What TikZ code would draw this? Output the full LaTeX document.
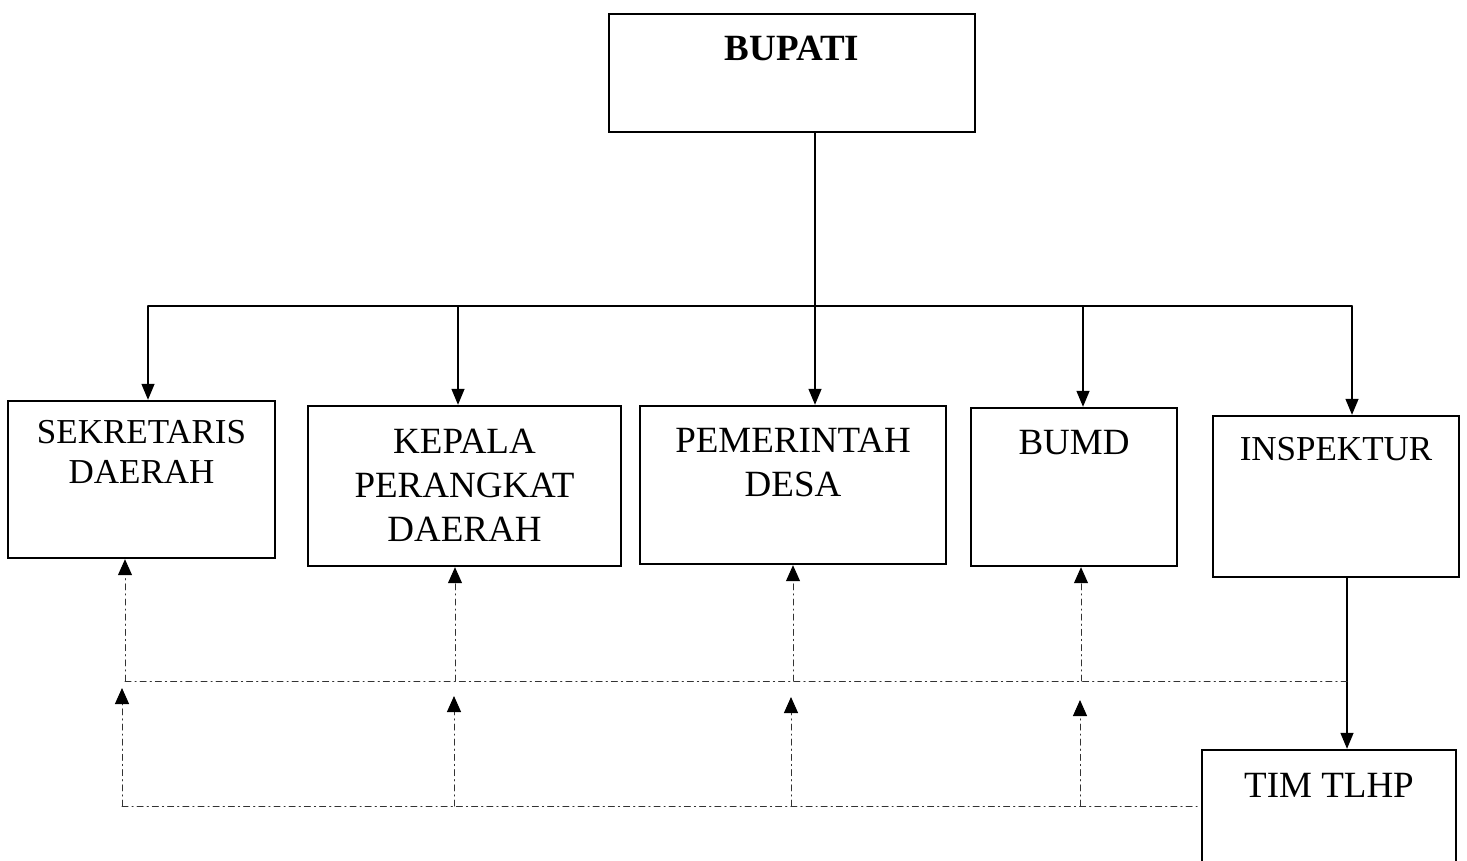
\documentclass[tikz,border=0pt]{standalone}
\usepackage{fontspec}
\setmainfont{Liberation Serif}
\usetikzlibrary{positioning,arrows.meta}
\begin{document}
\begin{tikzpicture}[x=0.5pt,y=-0.5pt,line cap=round]
	\tikzstyle{kotak}=[draw,line width=1.2pt,rectangle,inner sep=0pt];
	\tikzstyle{tulisan}=[align=center,inner sep=0pt,font=\fontsize{18.5}{22}\selectfont];
	\tikzstyle{garis}=[line width=0.7pt,-{Triangle[length=8pt,width=6.5pt]}];
	\tikzstyle{putus}=[line width=0.5pt,black!80,dash pattern=on 3pt off 2pt on 0.6pt off 2pt];
	\tikzstyle{putusp}=[putus,-{Triangle[length=8pt,width=7pt,color=black]}];

	\useasboundingbox (0,0) rectangle (1467,861);

	% kotak-kotak
	\node[kotak,minimum width=183pt,minimum height=59pt]   (bupati) at (792,73)    {};
	\node[kotak,minimum width=133.5pt,minimum height=78.5pt] (sekda) at (141.5,479.5) {};
	\node[kotak,minimum width=156.5pt,minimum height=80pt] (kepala) at (464.5,486)  {};
	\node[kotak,minimum width=153pt,minimum height=79pt]   (pemdes) at (793,485)    {};
	\node[kotak,minimum width=103pt,minimum height=79pt]   (bumd)   at (1074,487)   {};
	\node[kotak,minimum width=123pt,minimum height=80.5pt] (insp)   at (1336,496.5) {};
	\node[kotak,minimum width=127pt,minimum height=65pt]   (tim)    at (1329,815)   {};

	% tulisan
	\node[tulisan,font=\fontsize{18.5}{22}\selectfont\bfseries,below=11.5pt of bupati.north] (t-bupati) {BUPATI};
	\node[tulisan,font=\fontsize{17.5}{20}\selectfont,below=10pt of sekda.north] (t-sekda) {SEKRETARIS\\DAERAH};
	\node[tulisan,below=12pt of kepala.north] (t-kepala) {KEPALA\\PERANGKAT\\DAERAH};
	\node[tulisan,below=11.5pt of pemdes.north] (t-pemdes) {PEMERINTAH\\DESA};
	\node[tulisan,below=11.5pt of bumd.north] (t-bumd) {BUMD};
	\node[tulisan,font=\fontsize{17.5}{20}\selectfont,below=11pt of insp.north] (t-insp) {INSPEKTUR};
	\node[tulisan,below=12pt of tim.north] (t-tim) {TIM TLHP};

	% garis komando
	\coordinate (trunk) at (815,306);
	\coordinate (bus1) at (148,306);
	\coordinate (bus2) at (458,306);
	\coordinate (bus4) at (1083,306);
	\coordinate (bus5) at (1352,306);
	\coordinate (tl) at (1347,660);
	\draw[line width=0.7pt] (bus1) -- (bus5);
	\draw[garis] (bupati.south -| trunk) -- (pemdes.north -| trunk);
	\draw[garis] (bus1) -- (sekda.north -| bus1);
	\draw[garis] (bus2) -- (kepala.north -| bus2);
	\draw[garis] (bus4) -- (bumd.north -| bus4);
	\draw[garis] (bus5) -- (insp.north -| bus5);
	\draw[garis] (insp.south -| tl) -- (tim.north -| tl);

	% garis putus atas
	\coordinate (u1) at (125,681);
	\coordinate (u2) at (455,681);
	\coordinate (u3) at (793,681);
	\coordinate (u4) at (1081,681);
	\draw[putus] (u1) -- (tl |- u1);
	\draw[putusp] (u1) -- (sekda.south -| u1);
	\draw[putusp] (u2) -- (kepala.south -| u2);
	\draw[putusp] (u3) -- (pemdes.south -| u3);
	\draw[putusp] (u4) -- (bumd.south -| u4);

	% garis putus bawah
	\coordinate (b1) at (122,806);
	\coordinate (b2) at (454,806);
	\coordinate (b3) at (791,806);
	\coordinate (b4) at (1080,806);
	\coordinate (a1) at (122,688);
	\coordinate (a2) at (454,696);
	\coordinate (a3) at (791,697);
	\coordinate (a4) at (1080,700);
	\draw[putus] (b1) -- (b1 -| tim.west);
	\draw[putusp] (b1) -- (a1);
	\draw[putusp] (b2) -- (a2);
	\draw[putusp] (b3) -- (a3);
	\draw[putusp] (b4) -- (a4);
\end{tikzpicture}
\end{document}
